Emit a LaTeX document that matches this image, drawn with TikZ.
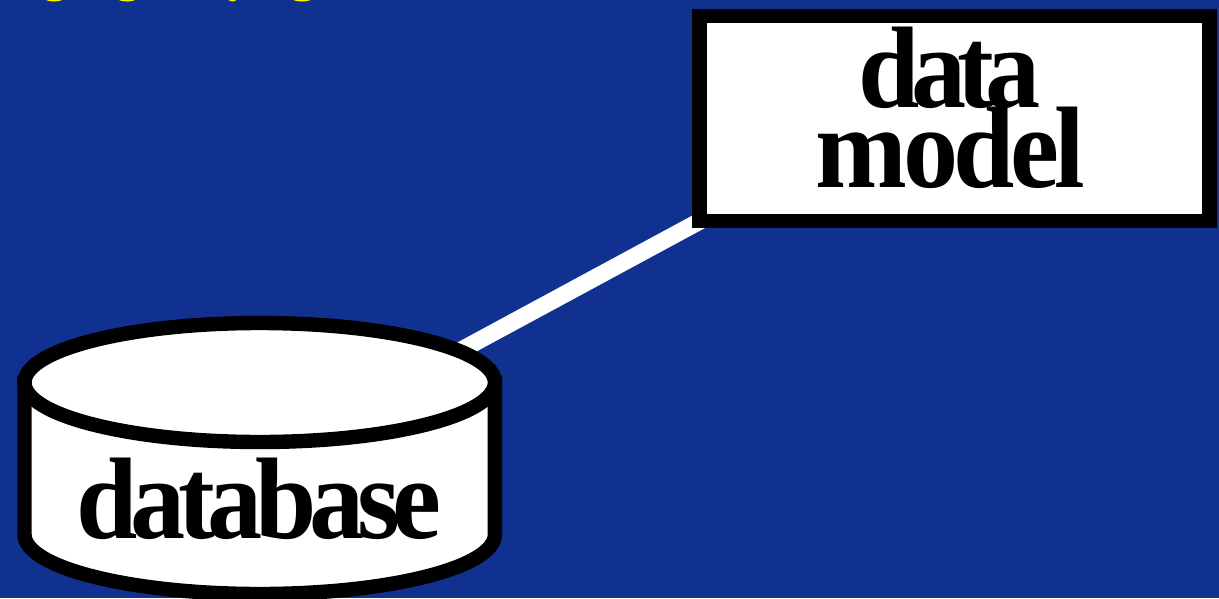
\documentclass[tikz,border=0pt]{standalone}
\usepackage{fontspec}
\usetikzlibrary{backgrounds}
\definecolor{slideblue}{RGB}{16,49,143}
\definecolor{titleyellow}{RGB}{255,245,0}
\newfontfamily\labelfont[FakeStretch=0.95,LetterSpace=-6.25,BoldFont={Liberation Serif Bold}]{Liberation Serif}
\begin{document}
\begin{tikzpicture}[x=1pt,y=-1pt,
      lbl/.style={inner sep=0pt, align=center, font=\labelfont\bfseries\fontsize{116}{80}\selectfont},
      box/.style={lbl, rectangle, draw=black, fill=white, line width=14.4pt,
                  minimum width=510pt, minimum height=205pt, text depth=22pt},
      dbase/.style={draw=black, fill=white, line width=14.4pt}]
      \useasboundingbox (0,0) rectangle (1219,598);

      % Cylinder
      \draw[dbase] (24.5,382.5) -- (24.5,534.5)
        arc[start angle=180, end angle=360, x radius=235.2pt, y radius=59.5pt]
        -- (494.9,382.5) -- cycle;
      \draw[dbase] (259.7,382.5) ellipse (235.2pt and 59.5pt);
      \coordinate (db) at (259.6,459);
      \node[lbl, anchor=base] (dbname) at (259,538) {database};

      \node[box] (model) at (954.5,118.5) {{\addfontfeature{LetterSpace=-7.5}data\kern10pt}\\[-3pt]
        {\addfontfeature{LetterSpace=-4}model\kern8pt}};

      % Background and link
      \begin{pgfonlayer}{background}
        \fill[slideblue] (0,0) rectangle (1219,598);
        % bottoms of the cut-off title
        \begin{scope}
          \clip (0,0) rectangle (1219,598);
          \foreach \xa/\rx in {54/13,127/13,232.5/6,302/14}{
            \fill[titleyellow] (\xa,-5) ellipse ({\rx pt} and 6.5pt);
          }
        \end{scope}
        \draw[white, line width=17pt, shorten >=-20pt] (db) -- ([yshift=3pt]model.south west);
      \end{pgfonlayer}
    \end{tikzpicture}
\end{document}
